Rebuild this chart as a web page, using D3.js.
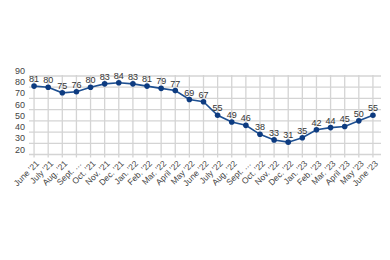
<!DOCTYPE html>
<html>
<head>
<meta charset="utf-8">
<script src="https://cdn.jsdelivr.net/npm/d3@7"></script>
<style>
  html, body { margin: 0; padding: 0; background: #fff; }
  svg { display: block; font-family: "Liberation Sans", Arial, sans-serif; }
</style>
</head>
<body>
<div class="container"></div>
<script>
const WIDTH = 390;
const HEIGHT = 260;

const months = ["June '21", "July '21", "Aug. '21", "Sept. …", "Oct. '21", "Nov. '21",
  "Dec. '21", "Jan. '22", "Feb. '22", "Mar. '22", "April '22", "May '22", "June '22",
  "July '22", "Aug. '22", "Sept. …", "Oct. '22", "Nov. '22", "Dec. '22", "Jan. '23",
  "Feb. '23", "Mar. '23", "April '23", "May '23", "June '23"];
const values = [81, 80, 75, 76, 80, 83, 84, 83, 81, 79, 77, 69, 67, 55, 49, 46, 38,
  33, 31, 35, 42, 44, 45, 50, 55];
const yTicks = [20, 30, 40, 50, 60, 70, 80, 90];

const LEFT = 27, RIGHT = 380, TOP = 76, BOTTOM = 154.5;

var xScale = d3.scaleBand()
    .domain(months.map(function(d, i){ return i; }))
    .range([LEFT, RIGHT]);

var yScale = d3.scaleLinear()
    .domain([20, 90])
    .range([BOTTOM, TOP]);

var cx = function(i){ return xScale(i) + xScale.bandwidth() / 2; };

var svg = d3.select('.container').append('svg')
    .attr('width', WIDTH)
    .attr('height', HEIGHT);

// horizontal grid + y labels
var yAxis = svg.append('g');
yAxis.selectAll('line')
    .data(yTicks)
    .enter().append('line')
    .attr('x1', LEFT + 2).attr('x2', RIGHT + 1)
    .attr('y1', function(d){ return yScale(d); })
    .attr('y2', function(d){ return yScale(d); })
    .attr('stroke', '#d4d4d4')
    .attr('stroke-width', 1.3);
yAxis.selectAll('text')
    .data(yTicks)
    .enter().append('text')
    .attr('x', 15)
    .attr('y', function(d){ return yScale(d) - 2; })
    .attr('font-size', 9)
    .attr('fill', '#444')
    .text(function(d){ return d; });

// vertical grid
svg.append('g').selectAll('line')
    .data(values)
    .enter().append('line')
    .attr('x1', function(d, i){ return cx(i); })
    .attr('x2', function(d, i){ return cx(i); })
    .attr('y1', TOP - 1)
    .attr('y2', BOTTOM + 3)
    .attr('stroke', '#d4d4d4')
    .attr('stroke-width', 1.3);

// x labels
svg.append('g').selectAll('text')
    .data(months)
    .enter().append('text')
    .attr('transform', function(d, i){
        return 'translate(' + (cx(i) + 2) + ',' + (BOTTOM + 6) + ') rotate(-45)';
    })
    .attr('text-anchor', 'end')
    .attr('dy', '0.6em')
    .attr('font-size', 8.5)
    .attr('fill', '#444')
    .text(function(d){ return d; });

var line = d3.line()
    .x(function(d, i){ return cx(i); })
    .y(function(d){ return yScale(d); });

svg.append('path')
    .datum(values)
    .attr('d', line)
    .attr('fill', 'none')
    .attr('stroke', '#1d4f91')
    .attr('stroke-width', 1.6);

svg.append('g').selectAll('circle')
    .data(values)
    .enter().append('circle')
    .attr('cx', function(d, i){ return cx(i); })
    .attr('cy', function(d){ return yScale(d); })
    .attr('r', 2.8)
    .attr('fill', '#0d3b80');

svg.append('g').selectAll('text')
    .data(values)
    .enter().append('text')
    .attr('x', function(d, i){ return cx(i); })
    .attr('y', function(d){ return yScale(d) - 4; })
    .attr('text-anchor', 'middle')
    .attr('font-size', 9)
    .attr('fill', '#333')
    .text(function(d){ return d; });
</script>
</body>
</html>
